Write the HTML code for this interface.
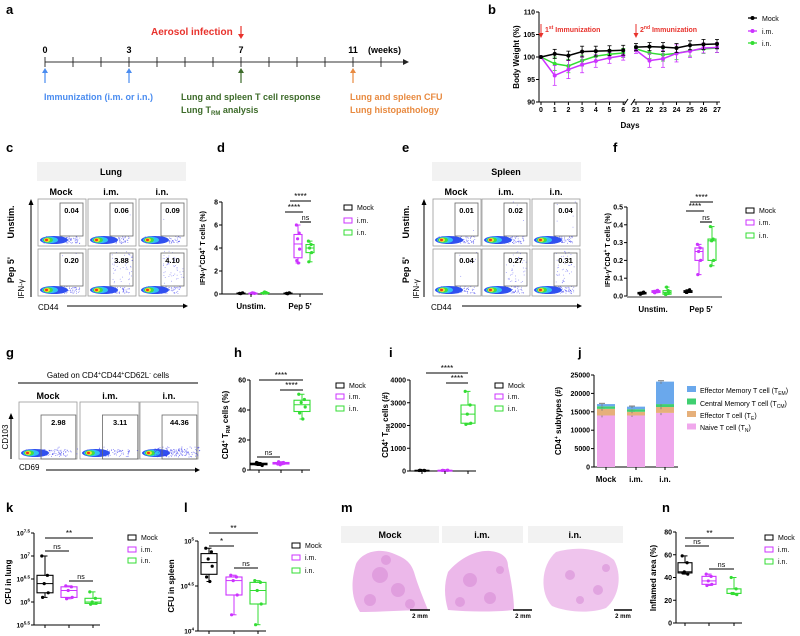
<!DOCTYPE html>
<html><head><meta charset="utf-8">
<style>
html,body{margin:0;padding:0;background:#fff;}
svg{display:block;}
text{font-family:"Liberation Sans Narrow","Liberation Sans",sans-serif;}
.pl{font-size:13px;font-weight:bold;fill:#000;}
.b{font-weight:bold;}
.s7{font-size:7px;}
.s8{font-size:8px;}
.s9{font-size:9px;}
.s10{font-size:10px;}
</style></head>
<body>
<svg id="fig" width="800" height="636" viewBox="0 0 800 636" xmlns="http://www.w3.org/2000/svg">
<rect x="0" y="0" width="800" height="636" fill="#fff"/>
<!-- panel letters -->
<text class="pl" x="6" y="14">a</text>
<text class="pl" x="488" y="14">b</text>
<text class="pl" x="6" y="152">c</text>
<text class="pl" x="217" y="152">d</text>
<text class="pl" x="402" y="152">e</text>
<text class="pl" x="613" y="152">f</text>
<text class="pl" x="6" y="357">g</text>
<text class="pl" x="234" y="357">h</text>
<text class="pl" x="389" y="357">i</text>
<text class="pl" x="578" y="357">j</text>
<text class="pl" x="6" y="512">k</text>
<text class="pl" x="184" y="512">l</text>
<text class="pl" x="341" y="512">m</text>
<text class="pl" x="662" y="512">n</text>

<!-- panel a -->
<g>
<text x="151" y="35" class="b s10" fill="#e8322c">Aerosol infection</text>
<line x1="241" y1="26" x2="241" y2="37" stroke="#e8322c" stroke-width="1.2"/>
<path d="M238,34 L241,39 L244,34 Z" fill="#e8322c"/>
<text x="45" y="53" text-anchor="middle" class="b s9">0</text>
<text x="129" y="53" text-anchor="middle" class="b s9">3</text>
<text x="241" y="53" text-anchor="middle" class="b s9">7</text>
<text x="353" y="53" text-anchor="middle" class="b s9">11</text>
<text x="368" y="53" class="b s9">(weeks)</text>
<line x1="45" y1="62" x2="405" y2="62" stroke="#333" stroke-width="1"/>
<path d="M403,59 L409,62 L403,65 Z" fill="#222"/>
<g id="weekticks"></g>
<text x="44" y="100" class="b s9" fill="#4a8cf0">Immunization (i.m. or i.n.)</text>
<text x="181" y="100" class="b s9" fill="#3d6b2a">Lung and spleen T cell response</text>
<text x="181" y="113" class="b s9" fill="#3d6b2a">Lung T<tspan font-size="6" dy="2">RM</tspan><tspan dy="-2"> analysis</tspan></text>
<text x="350" y="100" class="b s9" fill="#e88a40">Lung and spleen CFU</text>
<text x="350" y="113" class="b s9" fill="#e88a40">Lung histopathology</text>
</g>

<!-- panel b static -->
<text transform="translate(519,57) rotate(-90)" text-anchor="middle" class="b s8">Body Weight (%)</text>
<text x="630" y="128" text-anchor="middle" class="b s8">Days</text>
<text x="545" y="32" class="b s7" fill="#e8322c">1<tspan font-size="5" dy="-3">st</tspan><tspan dy="3"> Immunization</tspan></text>
<text x="640" y="32" class="b s7" fill="#e8322c">2<tspan font-size="5" dy="-3">nd</tspan><tspan dy="3"> Immunization</tspan></text>
<text x="762" y="21" class="s7">Mock</text>
<text x="762" y="34" class="s7">i.m.</text>
<text x="762" y="46" class="s7">i.n.</text>

<!-- panel c / e static -->
<rect x="37" y="162" width="149" height="19" fill="#f2f2f2"/>
<text x="111" y="175" text-anchor="middle" class="b s9">Lung</text>
<text x="61" y="195" text-anchor="middle" class="b s9">Mock</text>
<text x="111" y="195" text-anchor="middle" class="b s9">i.m.</text>
<text x="162" y="195" text-anchor="middle" class="b s9">i.n.</text>
<text transform="translate(14,222) rotate(-90)" text-anchor="middle" class="b s9">Unstim.</text>
<text transform="translate(14,270) rotate(-90)" text-anchor="middle" class="b s9">Pep 5'</text>
<text transform="translate(24,289) rotate(-90)" text-anchor="middle" class="s8">IFN-γ</text>
<text x="38" y="310" class="s8">CD44</text>
<rect x="432" y="162" width="149" height="19" fill="#f2f2f2"/>
<text x="506" y="175" text-anchor="middle" class="b s9">Spleen</text>
<text x="456" y="195" text-anchor="middle" class="b s9">Mock</text>
<text x="506" y="195" text-anchor="middle" class="b s9">i.m.</text>
<text x="556" y="195" text-anchor="middle" class="b s9">i.n.</text>
<text transform="translate(409,222) rotate(-90)" text-anchor="middle" class="b s9">Unstim.</text>
<text transform="translate(409,270) rotate(-90)" text-anchor="middle" class="b s9">Pep 5'</text>
<text transform="translate(419,289) rotate(-90)" text-anchor="middle" class="s8">IFN-γ</text>
<text x="431" y="310" class="s8">CD44</text>

<!-- panel d / f static -->
<text transform="translate(205,248) rotate(-90)" text-anchor="middle" class="b s7">IFN-γ<tspan font-size="5" dy="-3">+</tspan><tspan dy="3">CD4</tspan><tspan font-size="5" dy="-3">+</tspan><tspan dy="3"> T cells (%)</tspan></text>
<text x="251" y="309" text-anchor="middle" class="b s8">Unstim.</text>
<text x="300" y="309" text-anchor="middle" class="b s8">Pep 5'</text>
<text transform="translate(610,250) rotate(-90)" text-anchor="middle" class="b s7">IFN-γ<tspan font-size="5" dy="-3">+</tspan><tspan dy="3">CD4</tspan><tspan font-size="5" dy="-3">+</tspan><tspan dy="3"> T cells (%)</tspan></text>
<text x="653" y="312" text-anchor="middle" class="b s8">Unstim.</text>
<text x="701" y="312" text-anchor="middle" class="b s8">Pep 5'</text>

<!-- panel g static -->
<text x="108" y="378" text-anchor="middle" class="s8">Gated on CD4<tspan font-size="5" dy="-3">+</tspan><tspan dy="3">CD44</tspan><tspan font-size="5" dy="-3">+</tspan><tspan dy="3">CD62L</tspan><tspan font-size="5" dy="-3">-</tspan><tspan dy="3"> cells</tspan></text>
<line x1="18" y1="383" x2="198" y2="383" stroke="#000" stroke-width="1"/>
<text x="48" y="399" text-anchor="middle" class="b s9">Mock</text>
<text x="110" y="399" text-anchor="middle" class="b s9">i.m.</text>
<text x="169" y="399" text-anchor="middle" class="b s9">i.n.</text>
<text transform="translate(8,437) rotate(-90)" text-anchor="middle" class="s8">CD103</text>
<text x="19" y="470" class="s8">CD69</text>

<!-- h, i, j static -->
<text transform="translate(228,425) rotate(-90)" text-anchor="middle" class="b s8">CD4<tspan font-size="5" dy="-3">+</tspan><tspan dy="3"> T</tspan><tspan font-size="5" dy="2">RM</tspan><tspan dy="-2"> cells (%)</tspan></text>
<text transform="translate(388,425) rotate(-90)" text-anchor="middle" class="b s8">CD4<tspan font-size="5" dy="-3">+</tspan><tspan dy="3"> T</tspan><tspan font-size="5" dy="2">RM</tspan><tspan dy="-2"> cells (#)</tspan></text>
<text transform="translate(561,421) rotate(-90)" text-anchor="middle" class="b s8">CD4<tspan font-size="5" dy="-3">+</tspan><tspan dy="3"> subtypes (#)</tspan></text>
<text x="700" y="393" class="s7">Effector Memory T cell (T<tspan font-size="5" dy="2">EM</tspan><tspan dy="-2">)</tspan></text>
<text x="700" y="406" class="s7">Central Memory T cell (T<tspan font-size="5" dy="2">CM</tspan><tspan dy="-2">)</tspan></text>
<text x="700" y="418" class="s7">Effector T cell (T<tspan font-size="5" dy="2">E</tspan><tspan dy="-2">)</tspan></text>
<text x="700" y="430" class="s7">Naive T cell (T<tspan font-size="5" dy="2">N</tspan><tspan dy="-2">)</tspan></text>

<!-- k, l, n static -->
<text transform="translate(11,582) rotate(-90)" text-anchor="middle" class="b s8">CFU in lung</text>
<text transform="translate(174,586) rotate(-90)" text-anchor="middle" class="b s8">CFU in spleen</text>
<text transform="translate(656,578) rotate(-90)" text-anchor="middle" class="b s8">Inflamed area (%)</text>

<!-- m static -->
<g>
<rect x="341" y="526" width="98" height="17" fill="#f2f2f2"/>
<text x="390" y="538" text-anchor="middle" class="b s9">Mock</text>
<rect x="442" y="526" width="81" height="17" fill="#f2f2f2"/>
<text x="482" y="538" text-anchor="middle" class="b s9">i.m.</text>
<rect x="528" y="526" width="95" height="17" fill="#f2f2f2"/>
<text x="575" y="538" text-anchor="middle" class="b s9">i.n.</text>
<path d="M356,564 C362,552 378,548 392,553 C402,557 410,560 414,572 C418,586 424,600 428,610 C410,610 380,612 360,612 C352,600 350,584 356,564 Z" fill="#ecb8ea"/>
<path d="M448,572 C458,560 474,550 490,551 C500,552 508,556 508,566 C512,584 514,600 514,610 C494,612 470,612 448,610 C444,596 444,584 448,572 Z" fill="#ecb8ea"/>
<path d="M556,552 C576,546 600,548 614,560 C622,574 620,596 606,608 C590,614 566,612 552,606 C540,594 540,566 556,552 Z" fill="#efc4ed"/>
<g fill="#d78ad6" opacity="0.55">
<circle cx="380" cy="575" r="8"/><circle cx="398" cy="590" r="7"/><circle cx="370" cy="600" r="6"/><circle cx="410" cy="604" r="5"/><circle cx="386" cy="560" r="5"/>
<circle cx="470" cy="580" r="7"/><circle cx="490" cy="598" r="6"/><circle cx="460" cy="602" r="5"/><circle cx="500" cy="570" r="4"/>
<circle cx="570" cy="575" r="5"/><circle cx="598" cy="590" r="5"/><circle cx="580" cy="600" r="4"/><circle cx="606" cy="568" r="4"/>
</g>
<line x1="410" y1="610" x2="430" y2="610" stroke="#000" stroke-width="1.5"/>
<text x="420" y="618" text-anchor="middle" class="b" font-size="6">2 mm</text>
<line x1="513" y1="610" x2="532" y2="610" stroke="#000" stroke-width="1.5"/>
<text x="523" y="618" text-anchor="middle" class="b" font-size="6">2 mm</text>
<line x1="614" y1="610" x2="632" y2="610" stroke="#000" stroke-width="1.5"/>
<text x="623" y="618" text-anchor="middle" class="b" font-size="6">2 mm</text>
</g>
<g id="dyn"></g>
</svg>

<script>
// ---------- data ----------
const groups = ["Mock","i.m.","i.n."];
const groupColors = ["#000000","#cc33ff","#33dd33"];
// panel b body weight
const bDays = [0,1,2,3,4,5,6,21,22,23,24,25,26,27];
const bMock = [100,100.7,100.3,101.2,101.3,101.4,101.5,102.2,102.3,102.2,102.0,102.6,102.8,102.9];
const bIm   = [100,95.9,97.2,98.3,99.1,99.8,100.3,101.5,99.2,99.6,100.8,101.3,102.0,102.1];
const bIn   = [100,98.5,98.0,99.2,100.2,100.6,100.9,101.8,100.9,100.5,100.8,101.4,101.8,102.0];
const bSdMock = [0,1.0,1.0,1.2,1.1,1.1,1.1,0.8,0.9,1.0,1.0,1.0,1.1,1.0];
const bSdIm   = [0,2.2,2.0,1.8,1.4,1.2,1.0,0.7,1.5,1.9,1.9,1.4,1.1,1.1];
const bSdIn   = [0,1.5,1.5,1.2,1.2,1.0,1.0,0.6,1.2,1.4,1.4,1.2,1.0,1.0];
const bTicks = [90,95,100,105,110];
// flow numbers
const lungFlow = [["0.04","0.06","0.09"],["0.20","3.88","4.10"]];
const lungFlowVal = [[0.04,0.06,0.09],[0.20,3.88,4.10]];
const spleenFlow = [["0.01","0.02","0.04"],["0.04","0.27","0.31"]];
const spleenFlowVal = [[0.01,0.02,0.04],[0.04,0.27,0.31]];
const trmFlow = ["2.98","3.11","44.36"];
const trmFlowVal = [2.98,3.11,44.36];
// panel d
const dTicks = [0,2,4,6,8];
const dUnstimMock = [0.05,0.08,0.03,0.1,0.06];
const dUnstimIm = [0.04,0.07,0.1,0.05,0.08];
const dUnstimIn = [0.06,0.12,0.18,0.08,0.1];
const dPepMock = [0.05,0.1,0.02,0.08,0.06];
const dPepIm = [6.0,5.3,4.8,3.9,2.9,2.7];
const dPepIn = [4.6,4.3,4.0,3.6,2.8];
// panel f
const fTicks = [0,0.1,0.2,0.3,0.4,0.5];
const fUnstimMock = [0.01,0.02,0.015,0.022,0.012];
const fUnstimIm = [0.02,0.03,0.025,0.032,0.018];
const fUnstimIn = [0.01,0.03,0.05,0.02,0.008];
const fPepMock = [0.02,0.03,0.025,0.035,0.02];
const fPepIm = [0.29,0.27,0.25,0.2,0.12];
const fPepIn = [0.39,0.32,0.31,0.2,0.17];
// panel h
const hTicks = [0,20,40,60];
const hMock = [4,3.5,4.5,3,5];
const hIm = [4,5,3.5,4.5,5.5];
const hIn = [50.5,47,45,42,38,34];
// panel i
const iTicks = [0,1000,2000,3000,4000];
const iMock = [20,30,25,15,35];
const iIm = [25,30,20,35,28];
const iIn = [3500,2900,2500,2100,2050];
// panel j stacked
const jTicks = [0,5000,10000,15000,20000,25000];
const jNaive = [14000,14000,14700];
const jEffector = [1800,1000,1600];
const jCM = [700,700,800];
const jEM = [600,700,6100];
const jErr = [500,400,600];
// panel k (log10 CFU)
const kTicks = [5.5,6,6.5,7,7.5];
const kMock = [7.0,6.58,6.4,6.2,6.1];
const kIm = [6.35,6.33,6.25,6.1,6.07];
const kIn = [6.22,6.08,6.0,5.97,5.95];
// panel l (log10 CFU)
const lTicks = [4,4.5,5];
const lMock = [4.92,4.88,4.8,4.72,4.6,4.55];
const lIm = [4.62,4.6,4.56,4.4,4.18];
const lIn = [4.56,4.54,4.45,4.3,4.07];
// panel n
const nTicks = [0,20,40,60,80];
const nMock = [59,53,45,43,44];
const nIm = [43,41,37,34,33];
const nIn = [40,30,26,25,26];

// ---------- helpers ----------
const NS = "http://www.w3.org/2000/svg";
const root = document.getElementById("dyn");
function mk(parent, tag, attrs, name) {
  const el = document.createElementNS(NS, tag);
  for (const k in attrs) el.setAttribute(k, attrs[k]);
  
  
  parent.appendChild(el);
  return el;
}
function txt(parent, x, y, s, name, opts) {
  const o = Object.assign({x:x, y:y, "font-size":7, "font-weight":"bold", "text-anchor":"end"}, opts||{});
  const t = mk(parent, "text", o, name);
  t.textContent = s;
  return t;
}
function lin(v0, p0, v1, p1) { return v => p0 + (v - v0) * (p1 - p0) / (v1 - v0); }
function quant(a, q) { const s=[...a].sort((x,y)=>x-y); const p=(s.length-1)*q; const lo=Math.floor(p), hi=Math.ceil(p); return s[lo]+(s[hi]-s[lo])*(p-lo); }

function yAxis(g, x, ys, ticks, labels, name) {
  mk(g, "line", {x1:x, y1:ys(ticks[0]), x2:x, y2:ys(ticks[ticks.length-1]), stroke:"#000", "stroke-width":1}, name+"-line");
  ticks.forEach((t,i) => {
    mk(g, "line", {x1:x-3, y1:ys(t), x2:x, y2:ys(t), stroke:"#000", "stroke-width":1}, name+"-tick");
    txt(g, x-4, ys(t)+2.5, labels[i], name+"-tick-label");
  });
}
function yAxisLog(g, x, ys, ticks, name) {
  mk(g, "line", {x1:x, y1:ys(ticks[0]), x2:x, y2:ys(ticks[ticks.length-1]), stroke:"#000", "stroke-width":1}, name+"-line");
  ticks.forEach(t => {
    mk(g, "line", {x1:x-3, y1:ys(t), x2:x, y2:ys(t), stroke:"#000", "stroke-width":1}, name+"-tick");
    const tt = mk(g, "text", {x:x-4, y:ys(t)+2.5, "font-size":6.5, "font-weight":"bold", "text-anchor":"end"}, name+"-tick-label");
    const a = document.createElementNS(NS,"tspan"); a.textContent = "10"; tt.appendChild(a);
    const b = document.createElementNS(NS,"tspan"); b.setAttribute("font-size","4.5"); b.setAttribute("dy","-3"); b.textContent = (Number.isInteger(t)?t:t.toFixed(1)); tt.appendChild(b);
  });
}
const jit = [-2,1.5,-0.5,2,-1.5,0.5];
function box(g, cx, vals, color, ys, w, name) {
  const mn=Math.min(...vals), mx=Math.max(...vals), q1=quant(vals,.25), md=quant(vals,.5), q3=quant(vals,.75);
  mk(g,"line",{x1:cx,y1:ys(mx),x2:cx,y2:ys(q3),stroke:color,"stroke-width":1},name+"-whisker-top");
  mk(g,"line",{x1:cx,y1:ys(q1),x2:cx,y2:ys(mn),stroke:color,"stroke-width":1},name+"-whisker-bottom");
  mk(g,"line",{x1:cx-2.5,y1:ys(mx),x2:cx+2.5,y2:ys(mx),stroke:color,"stroke-width":1},name+"-cap-top");
  mk(g,"line",{x1:cx-2.5,y1:ys(mn),x2:cx+2.5,y2:ys(mn),stroke:color,"stroke-width":1},name+"-cap-bottom");
  mk(g,"rect",{x:cx-w/2,y:ys(q3),width:w,height:Math.max(0.8,ys(q1)-ys(q3)),fill:"none",stroke:color,"stroke-width":1.1},name+"-box");
  mk(g,"line",{x1:cx-w/2,y1:ys(md),x2:cx+w/2,y2:ys(md),stroke:color,"stroke-width":1},name+"-median");
  vals.forEach((v,i)=> mk(g,"circle",{cx:cx+jit[i%6]*(w/10),cy:ys(v),r:1.6,fill:color},name+"-point"));
}
function sig(g, x1, x2, y, label, name) {
  mk(g,"line",{x1:x1,y1:y,x2:x2,y2:y,stroke:"#000","stroke-width":1.1},name+"-line");
  txt(g,(x1+x2)/2,y-2,label,name+"-label",{"text-anchor":"middle","font-weight":"normal","font-size":label==="ns"?7:8});
}
function legend(g, x, ys3, name) {
  groups.forEach((gr,i) => {
    mk(g,"rect",{x:x,y:ys3[i]-4,width:8,height:5,fill:"none",stroke:groupColors[i],"stroke-width":1},name+"-swatch");
    txt(g,x+13,ys3[i]+1,gr,name+"-text",{"text-anchor":"start","font-weight":"normal"});
  });
}
function xAxisLine(g, x1, x2, y, name){ mk(g,"line",{x1:x1,y1:y,x2:x2,y2:y,stroke:"#000","stroke-width":1},name); }

// ---------- panel a ticks ----------
const wt = document.getElementById("weekticks");
for (let w = 0; w <= 13; w++) {
  const x = 45 + w*28;
  if (x > 400) break;
  mk(wt,"line",{x1:x,y1:57,x2:x,y2:67,stroke:"#222","stroke-width":0.9},"week-tick");
}
[[45,"#4a8cf0"],[129,"#4a8cf0"],[241,"#3d6b2a"],[353,"#e88a40"]].forEach(a=>{
  mk(root,"line",{x1:a[0],y1:83,x2:a[0],y2:71,stroke:a[1],"stroke-width":1.2},"event-arrow");
  mk(root,"path",{d:`M${a[0]-3},73 L${a[0]},68 L${a[0]+3},73 Z`,fill:a[1]},"event-arrowhead");
});

// ---------- panel b ----------
(function(){
  const g = mk(root,"g",{},"body-weight-chart");
  const yb = lin(90,102,110,12);
  const xb = d => d<=6 ? 541 + d*13.7 : 636 + (d-21)*13.5;
  mk(g,"line",{x1:539,y1:yb(90),x2:539,y2:yb(110),stroke:"#000","stroke-width":1},"b-y-axis");
  bTicks.forEach(t=>{ mk(g,"line",{x1:536,y1:yb(t),x2:539,y2:yb(t),stroke:"#000"},"b-y-tick"); txt(g,535,yb(t)+2.5,String(t),"b-y-tick-label"); });
  mk(g,"line",{x1:539,y1:102,x2:626,y2:102,stroke:"#000"},"b-x-axis-1");
  mk(g,"line",{x1:633,y1:102,x2:720,y2:102,stroke:"#000"},"b-x-axis-2");
  mk(g,"line",{x1:624,y1:105,x2:628,y2:99,stroke:"#000"},"b-axis-break");
  mk(g,"line",{x1:631,y1:105,x2:635,y2:99,stroke:"#000"},"b-axis-break");
  bDays.forEach(d=>{ mk(g,"line",{x1:xb(d),y1:102,x2:xb(d),y2:105,stroke:"#000"},"b-x-tick"); txt(g,xb(d),112,String(d),"b-x-tick-label",{"text-anchor":"middle"}); });
  [[541,"first"],[636,"second"]].forEach(a=>{
    mk(g,"line",{x1:a[0],y1:24,x2:a[0],y2:35,stroke:"#e8322c","stroke-width":1},"b-"+a[1]+"-immunization-arrow");
    mk(g,"path",{d:`M${a[0]-2.5},33 L${a[0]},38 L${a[0]+2.5},33 Z`,fill:"#e8322c"},"b-"+a[1]+"-immunization-arrowhead");
  });
  const series = [[bIn,bSdIn,"#33dd33","in"],[bIm,bSdIm,"#cc33ff","im"],[bMock,bSdMock,"#000000","mock"]];
  series.forEach(s=>{
    const seg1 = bDays.map((d,i)=>[d,s[0][i]]).filter(p=>p[0]<=6);
    const seg2 = bDays.map((d,i)=>[d,s[0][i]]).filter(p=>p[0]>=21);
    [seg1,seg2].forEach(seg=>{
      mk(g,"polyline",{points:seg.map(p=>xb(p[0])+","+yb(p[1])).join(" "),fill:"none",stroke:s[2],"stroke-width":1.5},"b-line-"+s[3]);
    });
    bDays.forEach((d,i)=>{
      const v=s[0][i], e=s[1][i];
      if (e>0){
        mk(g,"line",{x1:xb(d),y1:yb(v-e),x2:xb(d),y2:yb(v+e),stroke:s[2],"stroke-width":0.8},"b-errorbar-"+s[3]);
        mk(g,"line",{x1:xb(d)-2,y1:yb(v+e),x2:xb(d)+2,y2:yb(v+e),stroke:s[2],"stroke-width":0.8},"b-errorcap-"+s[3]);
        mk(g,"line",{x1:xb(d)-2,y1:yb(v-e),x2:xb(d)+2,y2:yb(v-e),stroke:s[2],"stroke-width":0.8},"b-errorcap-"+s[3]);
      }
      mk(g,"circle",{cx:xb(d),cy:yb(v),r:2,fill:s[2]},"b-point-"+s[3]);
    });
  });
  [["#000",18],["#cc33ff",31],["#33dd33",43]].forEach(l=>{
    mk(g,"line",{x1:748,y1:l[1],x2:757,y2:l[1],stroke:l[0],"stroke-width":1.3},"b-legend-line");
    mk(g,"circle",{cx:752.5,cy:l[1],r:2,fill:l[0]},"b-legend-marker");
  });
})();

// ---------- flow plots ----------
let seed = 7;
function rnd(){ seed = (seed*16807) % 2147483647; return seed/2147483647; }
function flowPlot(g, x, y, w, h, gate, label, val, name, gateLeftFrac, cloud) {
  mk(g,"rect",{x:x,y:y,width:w,height:h,fill:"#fff",stroke:"#999","stroke-width":0.8},name+"-frame");
  const bx = x+6, by = y+h-6;
  for (let i=0;i<90;i++){
    const dx = rnd()*w*0.75, dy=(rnd()-0.5)*7;
    mk(g,"circle",{cx:bx+dx,cy:by+dy,r:0.45,fill:"#3a3af0",opacity:0.7},name+"-event");
  }
  for (let i=0;i<Math.round(cloud);i++){
    const dx = w*gateLeftFrac + rnd()*w*(1-gateLeftFrac)*0.85, dy = -rnd()*h*0.7-6;
    mk(g,"circle",{cx:x+dx,cy:by+dy,r:0.45,fill:"#3a3af0",opacity:0.6},name+"-event");
  }
  mk(g,"ellipse",{cx:bx+10,cy:by,rx:14,ry:4,fill:"#3050f0"},name+"-density-blue");
  mk(g,"ellipse",{cx:bx+6,cy:by,rx:8,ry:3.2,fill:"#30c0f0"},name+"-density-cyan");
  mk(g,"ellipse",{cx:bx+4,cy:by,rx:5,ry:2.6,fill:"#40e040"},name+"-density-green");
  mk(g,"ellipse",{cx:bx+3,cy:by,rx:3,ry:2,fill:"#f0e030"},name+"-density-yellow");
  mk(g,"ellipse",{cx:bx+2.5,cy:by,rx:1.5,ry:1.2,fill:"#f03020"},name+"-density-red");
  mk(g,"rect",{x:gate[0],y:gate[1],width:gate[2],height:gate[3],fill:"none",stroke:"#666","stroke-width":0.8},name+"-gate");
  txt(g,gate[0]+gate[2]/2,gate[1]+10,label,name+"-gate-value",{"text-anchor":"middle","font-size":7.5});
}
(function(){
  const g = mk(root,"g",{},"lung-flow-plots");
  const cols=[38,88,139], cw=48, rows=[199,249], rh=47;
  const g2 = mk(root,"g",{},"spleen-flow-plots");
  const cols2=[433,482,532];
  rows.forEach((ry,r)=>cols.forEach((cx,c)=>{
    flowPlot(g,cx,ry,cw,rh,[cx+22,ry+4,23,33],lungFlow[r][c],lungFlowVal[r][c],"lung-flow-"+r+"-"+c,0.5,lungFlowVal[r][c]*12);
    flowPlot(g2,cols2[c],ry,cw,rh,[cols2[c]+22,ry+4,23,33],spleenFlow[r][c],spleenFlowVal[r][c],"spleen-flow-"+r+"-"+c,0.5,spleenFlowVal[r][c]*140);
  }));
  [[31,424]].forEach(()=>{});
  [31,424].forEach(ax=>{
    mk(root,"line",{x1:ax,y1:297,x2:ax,y2:203,stroke:"#000","stroke-width":1},"flow-y-arrow");
    mk(root,"path",{d:`M${ax-2.5},205 L${ax},199 L${ax+2.5},205 Z`,fill:"#000"},"flow-y-arrowhead");
  });
  [[67,183],[462,577]].forEach(a=>{
    mk(root,"line",{x1:a[0],y1:306,x2:a[1],y2:306,stroke:"#000","stroke-width":1},"flow-x-arrow");
    mk(root,"path",{d:`M${a[1]},303.5 L${a[1]+5},306 L${a[1]},308.5 Z`,fill:"#000"},"flow-x-arrowhead");
  });
  const g3 = mk(root,"g",{},"trm-flow-plots");
  [[19,58],[80,59],[140,58]].forEach((c,i)=>{
    flowPlot(g3,c[0],402,c[1],57,[c[0]+c[1]*0.38,415,c[1]*0.6,44],trmFlow[i],trmFlowVal[i],"trm-flow-"+i,0.4,0);
    // horizontal cloud along bottom scales with value
    for (let k=0;k<Math.round(trmFlowVal[i]*2+6);k++){
      mk(g3,"circle",{cx:c[0]+14+rnd()*c[1]*0.8,cy:452+(rnd()-0.5)*10,r:0.5,fill:"#3a3af0",opacity:0.7},"trm-flow-event");
    }
  });
  mk(root,"line",{x1:11,y1:459,x2:11,y2:418,stroke:"#000"},"g-y-arrow");
  mk(root,"path",{d:"M8.5,419 L11,413 L13.5,419 Z",fill:"#000"},"g-y-arrowhead");
  mk(root,"line",{x1:46,y1:470,x2:195,y2:470,stroke:"#000"},"g-x-arrow");
  mk(root,"path",{d:"M195,467.5 L200,470 L195,472.5 Z",fill:"#000"},"g-x-arrowhead");
})();

// ---------- panel d ----------
(function(){
  const g = mk(root,"g",{},"lung-ifng-chart");
  const ys = lin(0,294,8,202);
  yAxis(g,222,ys,dTicks,dTicks.map(String),"d-y-axis");
  xAxisLine(g,222,323,294,"d-x-axis");
  const pos=[[241,253,265],[288,298,310]];
  const data=[[dUnstimMock,dUnstimIm,dUnstimIn],[dPepMock,dPepIm,dPepIn]];
  data.forEach((set,si)=>set.forEach((vals,gi)=>box(g,pos[si][gi],vals,groupColors[gi],ys,8,"d-box-"+si+"-"+gi)));
  [251,300].forEach(x=>mk(g,"line",{x1:x,y1:294,x2:x,y2:297,stroke:"#000"},"d-x-tick"));
  sig(g,290,311,201,"****","d-sig-top");
  sig(g,285,303,212,"****","d-sig-mid");
  sig(g,300,311,222,"ns","d-sig-ns");
  legend(g,344,[209,222,234],"d-legend");
})();
// ---------- panel f ----------
(function(){
  const g = mk(root,"g",{},"spleen-ifng-chart");
  const ys = lin(0,296,0.5,207);
  yAxis(g,627,ys,fTicks,fTicks.map(t=>t===0?"0.0":t.toFixed(1)),"f-y-axis");
  mk(g,"rect",{x:627,y:296,width:95,height:2,fill:"#999"},"f-x-axis");
  const pos=[[642,656,667],[688,699,712]];
  const data=[[fUnstimMock,fUnstimIm,fUnstimIn],[fPepMock,fPepIm,fPepIn]];
  data.forEach((set,si)=>set.forEach((vals,gi)=>box(g,pos[si][gi],vals,groupColors[gi],ys,8,"f-box-"+si+"-"+gi)));
  sig(g,690,713,202,"****","f-sig-top");
  sig(g,686,704,211,"****","f-sig-mid");
  sig(g,700,712,222,"ns","f-sig-ns");
  legend(g,746,[212,224,237],"f-legend");
})();
// ---------- panel h ----------
(function(){
  const g = mk(root,"g",{},"trm-percent-chart");
  const ys = lin(0,470,60,380);
  yAxis(g,250,ys,hTicks,hTicks.map(String),"h-y-axis");
  xAxisLine(g,250,310,470,"h-x-axis");
  const pos=[259,281,302];
  [hMock,hIm,hIn].forEach((v,i)=>{ box(g,pos[i],v,groupColors[i],ys,16,"h-box-"+i); mk(g,"line",{x1:pos[i],y1:470,x2:pos[i],y2:473,stroke:"#000"},"h-x-tick"); });
  sig(g,259,303,380,"****","h-sig-top");
  sig(g,280,303,390,"****","h-sig-mid");
  sig(g,257,280,457,"ns","h-sig-ns");
  legend(g,336,[387,398,410],"h-legend");
})();
// ---------- panel i ----------
(function(){
  const g = mk(root,"g",{},"trm-count-chart");
  const ys = lin(0,471,4000,380);
  yAxis(g,410,ys,iTicks,iTicks.map(String),"i-y-axis");
  xAxisLine(g,410,476,471,"i-x-axis");
  const pos=[422,445,468];
  [iMock,iIm,iIn].forEach((v,i)=>{ box(g,pos[i],v,groupColors[i],ys,14,"i-box-"+i); mk(g,"line",{x1:pos[i],y1:471,x2:pos[i],y2:474,stroke:"#000"},"i-x-tick"); });
  sig(g,426,468,373,"****","i-sig-top");
  sig(g,446,468,383,"****","i-sig-mid");
  legend(g,495,[387,398,410],"i-legend");
})();
// ---------- panel j ----------
(function(){
  const g = mk(root,"g",{},"cd4-subtypes-chart");
  const ys = lin(0,467,25000,375);
  yAxis(g,594,ys,jTicks,jTicks.map(String),"j-y-axis");
  xAxisLine(g,594,678,467,"j-x-axis");
  const pos=[606,636,665];
  const layers=[[jNaive,"#f0a8ec","naive"],[jEffector,"#e6b07a","effector"],[jCM,"#3fcf70","central-memory"],[jEM,"#6aa8ec","effector-memory"]];
  pos.forEach((x,i)=>{
    let base=0;
    layers.forEach(L=>{
      const v=L[0][i];
      mk(g,"rect",{x:x-9,y:ys(base+v),width:18,height:ys(base)-ys(base+v),fill:L[1]},"j-bar-"+L[2]+"-"+i);
      base+=v;
      mk(g,"line",{x1:x-4,y1:ys(base-jErr[i]),x2:x-4,y2:ys(base),stroke:"#777","stroke-width":0.8},"j-error-"+L[2]);
      mk(g,"line",{x1:x-7,y1:ys(base+jErr[i]*0.4),x2:x-1,y2:ys(base+jErr[i]*0.4),stroke:"#777","stroke-width":1},"j-errorcap-"+L[2]);
    });
    mk(g,"line",{x1:x,y1:467,x2:x,y2:470,stroke:"#000"},"j-x-tick");
    txt(g,x,482,groups[i],"j-x-label",{"text-anchor":"middle","font-size":8});
  });
  layers.slice().reverse().forEach((L,k)=>mk(g,"rect",{x:687,y:386+k*12.5,width:9,height:6,fill:L[1]},"j-legend-swatch-"+L[2]));
})();
// ---------- panel k ----------
(function(){
  const g = mk(root,"g",{},"lung-cfu-chart");
  const ys = lin(5.5,625,7.5,533);
  yAxisLog(g,34,ys,kTicks,"k-y-axis");
  xAxisLine(g,34,100,625,"k-x-axis");
  const pos=[45,69,93];
  [kMock,kIm,kIn].forEach((v,i)=>{ box(g,pos[i],v,groupColors[i],ys,16,"k-box-"+i); mk(g,"line",{x1:pos[i],y1:625,x2:pos[i],y2:628,stroke:"#000"},"k-x-tick"); });
  sig(g,45,93,538,"**","k-sig-top");
  sig(g,45,69,551,"ns","k-sig-ns1");
  sig(g,69,93,581,"ns","k-sig-ns2");
  legend(g,128,[539,551,562],"k-legend");
})();
// ---------- panel l ----------
(function(){
  const g = mk(root,"g",{},"spleen-cfu-chart");
  const ys = lin(4,631,5,541);
  yAxisLog(g,198,ys,lTicks,"l-y-axis");
  xAxisLine(g,198,266,631,"l-x-axis");
  const pos=[209,234,258];
  [lMock,lIm,lIn].forEach((v,i)=>{ box(g,pos[i],v,groupColors[i],ys,16,"l-box-"+i); mk(g,"line",{x1:pos[i],y1:631,x2:pos[i],y2:634,stroke:"#000"},"l-x-tick"); });
  sig(g,209,258,533,"**","l-sig-top");
  sig(g,209,234,546,"*","l-sig-star");
  sig(g,234,258,568,"ns","l-sig-ns");
  legend(g,292,[547,559,572],"l-legend");
})();
// ---------- panel n ----------
(function(){
  const g = mk(root,"g",{},"inflamed-area-chart");
  const ys = lin(0,623,80,532);
  yAxis(g,676,ys,nTicks,nTicks.map(String),"n-y-axis");
  xAxisLine(g,676,742,623,"n-x-axis");
  const pos=[685,709,734];
  [nMock,nIm,nIn].forEach((v,i)=>{ box(g,pos[i],v,groupColors[i],ys,14,"n-box-"+i); mk(g,"line",{x1:pos[i],y1:623,x2:pos[i],y2:626,stroke:"#000"},"n-x-tick"); });
  sig(g,685,734,538,"**","n-sig-top");
  sig(g,685,709,546,"ns","n-sig-ns1");
  sig(g,709,734,569,"ns","n-sig-ns2");
  legend(g,765,[539,551,563],"n-legend");
})();
</script>
</body></html>
